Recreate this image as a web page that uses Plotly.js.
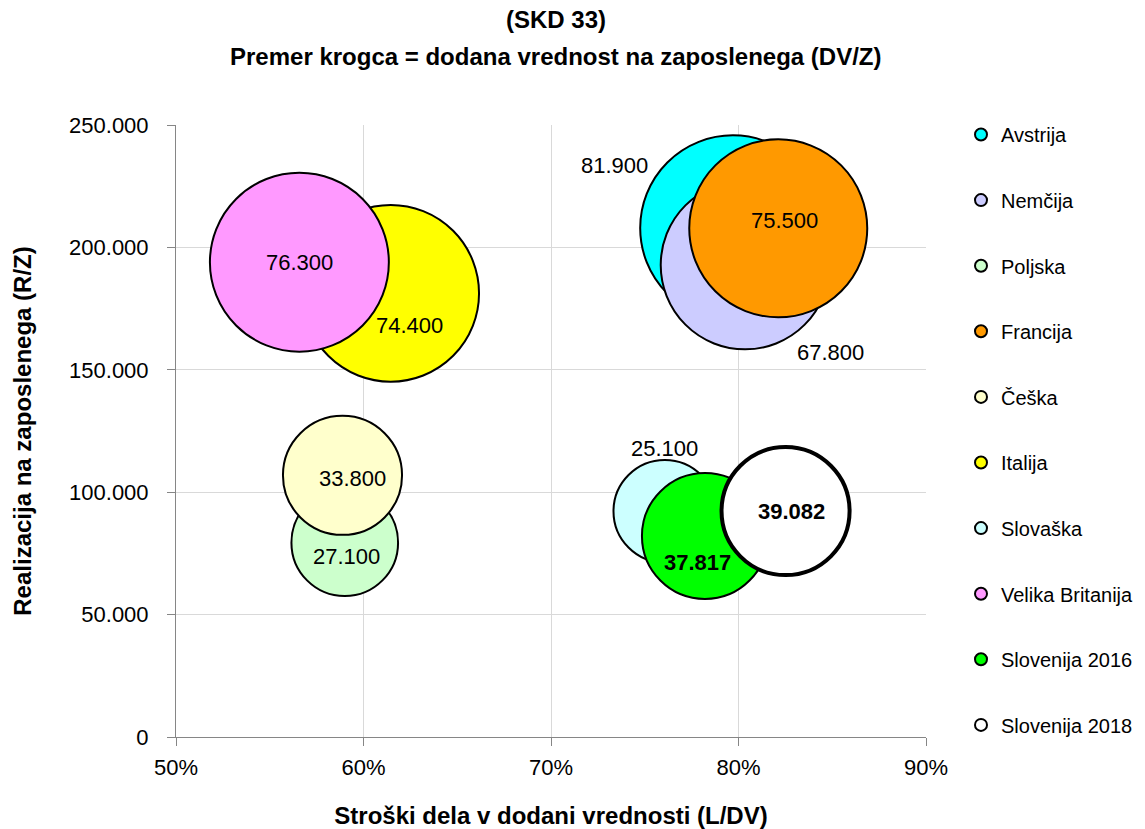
<!DOCTYPE html>
<html>
<head>
<meta charset="utf-8">
<script src="https://cdn.plot.ly/plotly-3.0.1.min.js"></script>
<style>html,body{margin:0;padding:0;background:#fff;}#chart{width:1145px;height:829px;}</style>
</head>
<body>
<div id="chart"></div>
<script>
// ---- data ----
var countries = ["Avstrija", "Nemčija", "Poljska", "Francija", "Češka", "Italija", "Slovaška", "Velika Britanija", "Slovenija 2016", "Slovenija 2018"];
var laborShare = [0.797, 0.8035, 0.590, 0.8212, 0.5888, 0.6145, 0.7607, 0.5658, 0.7821, 0.8251];   // L/DV
var revenuePerEmp = [207900, 192800, 79400, 207800, 106900, 181250, 92200, 193950, 82100, 92300]; // R/Z
var valueAdded = [81900, 67800, 27100, 75500, 33800, 74400, 25100, 76300, 37817, 39082];           // DV/Z
var xTickVals = [0.5, 0.6, 0.7, 0.8, 0.9];
var yTickVals = [0, 50000, 100000, 150000, 200000, 250000];

// ---- styles ----
var fills = ["#00FFFF", "#CCCCFF", "#CCFFCC", "#FF9900", "#FFFFCC", "#FFFF00", "#CCFFFF", "#FF99FF", "#00FF00", "#FFFFFF"];
var borderW = [2, 2, 2, 2, 2, 2, 2, 2, 2, 4];
var labelBold = [false, false, false, false, false, false, false, false, true, true];
// label pixel offsets from bubble centre (Avstrija, Nemčija, Poljska, Francija, Češka, Italija, Slovaška, VB, Slo16, Slo18)
var labelShift = [[-118, 63], [85, -87], [2, -14], [6, 8], [10, -3], [19, -32], [0, 63], [0, 0], [-7, -26], [6, 0]];

var FONT = "Liberation Sans, Arial, sans-serif";

function fmt(v) { return String(v).replace(/\B(?=(\d{3})+(?!\d))/g, "."); }

var traces = countries.map(function (c, i) {
  return {
    type: "scatter",
    mode: "markers",
    name: c,
    legendgroup: "g" + i,
    x: [laborShare[i]],
    y: [revenuePerEmp[i]],
    marker: {
      size: [valueAdded[i]],
      sizemode: "area",
      sizeref: 4.766,
      color: fills[i],
      opacity: 1,
      line: { color: "#000000", width: borderW[i] }
    },
    hoverinfo: "name"
  };
});

var annotations = countries.map(function (c, i) {
  return {
    x: laborShare[i], y: revenuePerEmp[i], xref: "x", yref: "y",
    text: labelBold[i] ? "<b>" + fmt(valueAdded[i]) + "</b>" : fmt(valueAdded[i]),
    showarrow: false,
    xshift: labelShift[i][0], yshift: labelShift[i][1],
    font: { family: FONT, size: 22, color: "#000000" }
  };
});
annotations.push({
  xref: "paper", yref: "paper", x: (556 - 176) / 750, y: (737 - 57) / 612,
  xanchor: "center", yanchor: "middle", showarrow: false,
  text: "<b>Premer krogca = dodana vrednost na zaposlenega (DV/Z)</b>",
  font: { family: FONT, size: 24, color: "#000000" }
});

var layout = {
  width: 1145, height: 829,
  margin: { l: 176, r: 219, t: 125, b: 92, autoexpand: false },
  paper_bgcolor: "#ffffff", plot_bgcolor: "#ffffff",
  separators: ",.",
  font: { family: FONT, size: 22, color: "#000000" },
  title: {
    text: "(SKD 33)",
    font: { family: FONT, size: 24, color: "#000000", weight: 700 },
    xref: "container", yref: "container",
    x: 556 / 1145, xanchor: "center",
    y: 1 - 20 / 829, yanchor: "middle"
  },
  showlegend: true,
  legend: {
    x: (961 - 176) / 750, xanchor: "left",
    y: (737 - 115) / 612, yanchor: "top",
    tracegroupgap: 36.6,
    maxheight: 800,
    itemsizing: "constant",
    font: { family: FONT, size: 20, color: "#000000" },
    bgcolor: "rgba(0,0,0,0)", borderwidth: 0
  },
  xaxis: {
    range: [0.5, 0.9],
    tickvals: xTickVals,
    tickformat: ".0%",
    showgrid: true, gridcolor: "#D9D9D9", gridwidth: 1,
    zeroline: false,
    showline: true, linecolor: "#868686", linewidth: 1,
    ticks: "outside", ticklen: 8, tickcolor: "#868686",
    ticklabelstandoff: 3,
    tickfont: { family: FONT, size: 22, color: "#000000" },
    title: {
      text: "Stroški dela v dodani vrednosti (L/DV)",
      font: { family: FONT, size: 24, color: "#000000", weight: 700 },
      standoff: 34
    },
    fixedrange: true
  },
  yaxis: {
    range: [0, 250000],
    tickvals: yTickVals,
    tickformat: ",d",
    showgrid: true, gridcolor: "#D9D9D9", gridwidth: 1,
    zeroline: false,
    showline: true, linecolor: "#868686", linewidth: 1,
    ticks: "outside", ticklen: 8, tickcolor: "#868686",
    ticklabelstandoff: 14,
    tickfont: { family: FONT, size: 22, color: "#000000" },
    title: {
      text: "Realizacija na zaposlenega (R/Z)",
      font: { family: FONT, size: 24, color: "#000000", weight: 700 },
      standoff: 30
    },
    fixedrange: true
  },
  annotations: annotations
};

Plotly.newPlot("chart", traces, layout, { displayModeBar: false, staticPlot: true });
</script>
</body>
</html>
